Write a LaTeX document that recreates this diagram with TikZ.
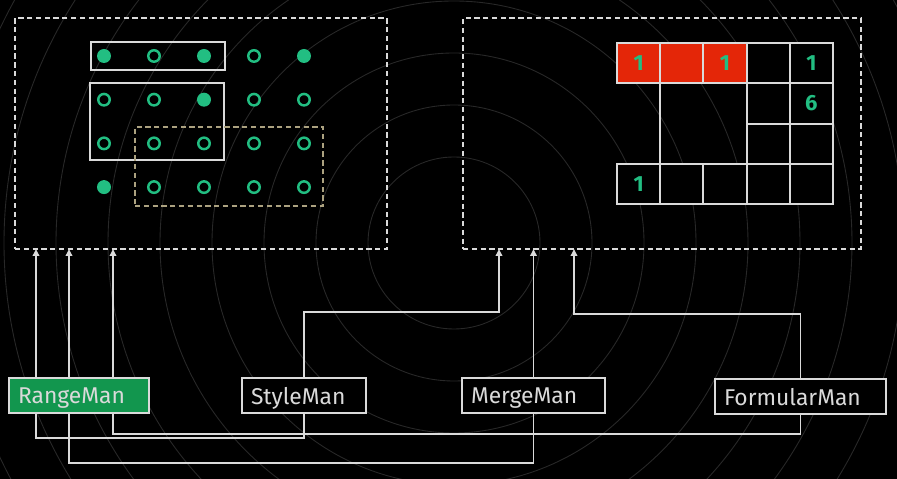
\documentclass[tikz,border=0pt]{standalone}
\usepackage{fontspec}
\setmainfont{Fira Sans}
\usetikzlibrary{positioning,fit,arrows.meta}
\definecolor{dotgreen}{RGB}{34,190,130}
\definecolor{rangegreen}{RGB}{18,150,78}
\definecolor{cellred}{RGB}{228,38,8}
\definecolor{edge}{RGB}{218,218,218}
\definecolor{tanline}{RGB}{172,162,128}
\definecolor{ringgray}{RGB}{40,40,40}
\pgfdeclarelayer{bg}
\pgfdeclarelayer{wires}
\pgfsetlayers{bg,wires,main}

\begin{document}
\begin{tikzpicture}[x=0.02cm, y=-0.02cm,
  dot/.style={circle, fill=dotgreen, inner sep=0pt, minimum size=0.28cm},
  ring/.style={circle, draw=dotgreen, line width=1.4pt, inner sep=0pt, minimum size=0.23cm},
  selbox/.style={draw=edge, line width=1pt, inner sep=0pt},
  sheet/.style={draw=edge, line width=0.8pt, dash pattern=on 3pt off 2pt,
                inner sep=0pt, minimum height=4.62cm},
  cell/.style={draw=edge, line width=1.1pt, inner sep=0pt, minimum width=0.864cm,
               minimum height=0.806cm, font=\bfseries\fontsize{12.5}{14}\selectfont, text=dotgreen},
  mgr/.style={draw=edge, line width=1pt, fill=black, text=edge, align=left, text depth=0pt,
              inner xsep=0.18cm, minimum height=0.7cm, font=\fontsize{13}{15}\selectfont},
  arr/.style={-{Triangle[length=1.4mm, width=1.3mm]}, draw=edge, line width=1pt}
]
\useasboundingbox (0,0) rectangle (897,479);
% ---- background rings ----
\begin{pgfonlayer}{bg}
  \fill[black] (0,0) rectangle (897,479);
  \begin{scope}
    \clip (0,0) rectangle (897,479);
    \foreach \k in {0,...,9}
      \draw[ringgray, line width=0.5pt] (454,243) circle[radius=86+52*\k];
  \end{scope}
\end{pgfonlayer}

% ---- left: cell dots ----
\node[sheet, minimum width=7.44cm] (sheetL) at (201,133.5) {};
\foreach \r/\c in {0/0,0/2,0/4,1/2,3/0}
  \node[dot] (d\r\c) at (104+50*\c,56+43.7*\r) {};
\foreach \r/\c in {0/1,0/3,1/0,1/1,1/3,1/4,2/0,2/1,2/2,2/3,2/4,3/1,3/2,3/3,3/4}
  \node[ring] (d\r\c) at (104+50*\c,56+43.7*\r) {};
\node[selbox, minimum width=2.68cm, minimum height=0.56cm] (selA) at (158,56) {};
\node[selbox, minimum width=2.68cm, minimum height=1.54cm] (selB) at (157,121.5) {};
\node[selbox, draw=tanline, line width=0.8pt, dash pattern=on 3pt off 2pt,
      minimum width=3.76cm, minimum height=1.58cm] (selC) at (229,166.5) {};

% ---- right: merged grid ----
\node[sheet, minimum width=7.96cm] (sheetR) at (662,133.5) {};
\foreach \r/\c/\v/\f in {0/0/1/cellred,0/1//cellred,0/2/1/cellred,0/3//black,0/4/1/black,
                         1/3//black,1/4/6/black,2/3//black,2/4//black,
                         3/0/1/black,3/1//black,3/2//black,3/3//black,3/4//black}
  \node[cell, fill=\f] (g\r\c) at (638.6+43.2*\c,63.2+40.3*\r) {\v};
\node[cell, minimum width=1.728cm, minimum height=1.612cm] (gm) at (703.4,123.65) {};

% ---- managers ----
\node[mgr, fill=rangegreen, text width=2.44cm] (range) at (79,395.5) {RangeMan};
\node[mgr, text width=2.12cm] (style) at (304,395.5) {StyleMan};
\node[mgr, text width=2.5cm] (merge) at (533.5,395.5) {MergeMan};
\node[mgr, text width=3.06cm] (formular) at (800.5,396.5) {FormularMan};

\coordinate (inL1) at (36,249);
\coordinate (inL2) at (69,249);
\coordinate (inL3) at (113,249);
\coordinate (inR1) at (499,249);
\coordinate (inR2) at (533.5,249);
\coordinate (inR3) at (574,249);

% ---- wires (under the boxes) ----
\begin{pgfonlayer}{wires}
  \draw[arr] (style.south) -- ++(0,24) -| (inL1);
  \draw[arr] (merge.south) -- ++(0,49) -| (inL2);
  \draw[arr] (formular.south) -- ++(0,19) -| (inL3);
  \draw[arr] (style.north) -- ++(0,-65) -| (inR1);
  \draw[arr] (merge.north) -- (inR2);
  \draw[arr] (formular.north) -- ++(0,-64) -| (inR3);
\end{pgfonlayer}
\end{tikzpicture}
\end{document}
